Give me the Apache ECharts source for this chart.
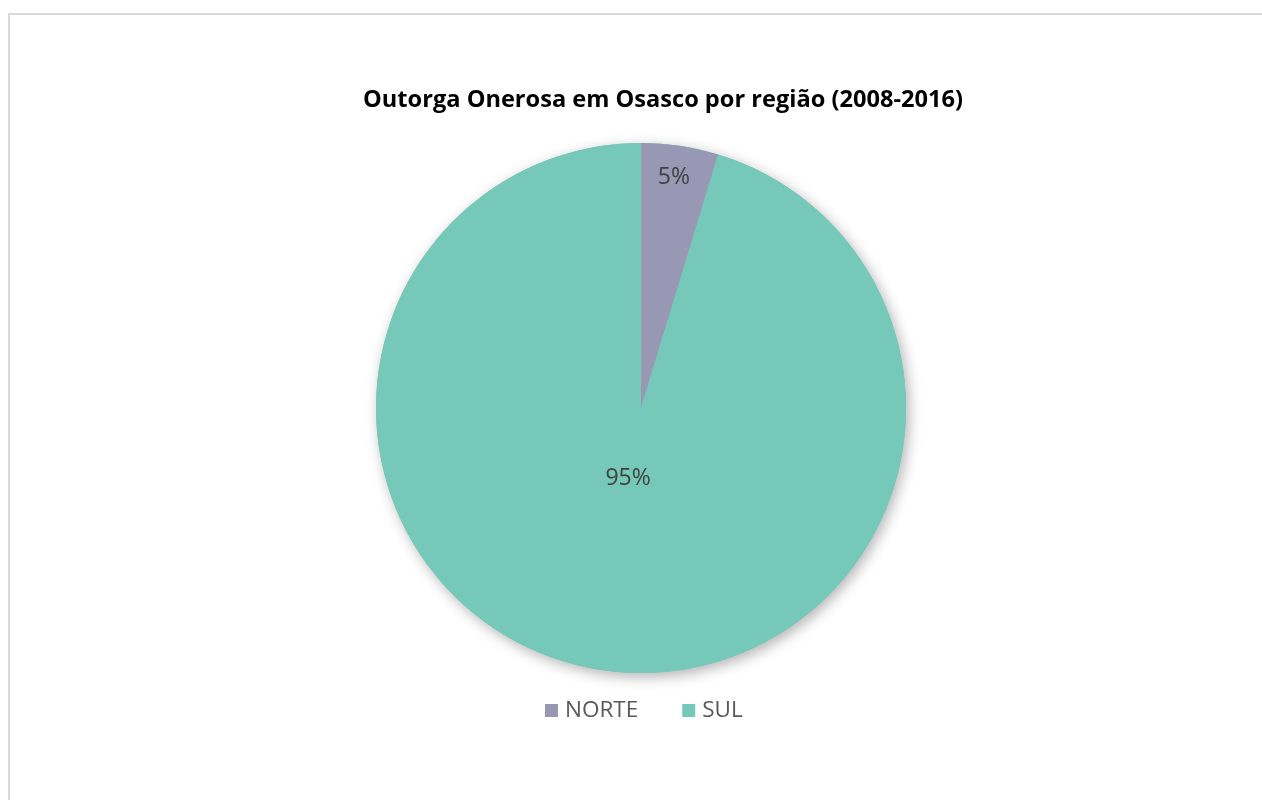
<!DOCTYPE html>
<html>
<head>
<meta charset="utf-8">
<script src="https://cdn.jsdelivr.net/npm/echarts@6/dist/echarts.min.js"></script>
<style>
  html, body { margin: 0; padding: 0; background: #ffffff; }
  #chart { width: 1262px; height: 800px; }
</style>
</head>
<body>
<div id="chart"></div>
<script>
// Regions and their share of the Outorga Onerosa collected (2008-2016)
const regions = ['NORTE', 'SUL'];
const shares = [4.7, 95.3];
const colors = ['#9897b4', '#76c8b9'];
const titleText = 'Outorga Onerosa em Osasco por região (2008-2016)';

// Per-slice label nudges from the default inside position
const labelOffsets = [[13, -97], [7, -64]];

const chart = echarts.init(document.getElementById('chart'), null, { renderer: 'canvas' });

const data = regions.map((name, i) => ({
  name: name,
  value: shares[i],
  itemStyle: { color: colors[i] },
  label: { offset: labelOffsets[i] }
}));

const total = shares.reduce((a, b) => a + b, 0);
const pieCenter = [641, 408];
const pieRadius = [0, 265];

chart.setOption({
  backgroundColor: '#ffffff',
  animation: false,
  title: {
    text: titleText,
    left: 658,
    top: 83,
    textAlign: 'center',
    textStyle: {
      fontFamily: 'Open Sans',
      fontWeight: 'bold',
      fontSize: 23.6,
      color: '#000000'
    }
  },
  legend: {
    data: regions,
    left: 540,
    top: 694,
    itemWidth: 13,
    itemHeight: 13,
    itemGap: 44,
    icon: 'rect',
    textStyle: {
      fontFamily: 'Open Sans',
      fontSize: 22.5,
      color: '#595959',
      padding: [0, 0, 0, 2]
    }
  },
  graphic: [{
    type: 'rect',
    silent: true,
    z: -10,
    shape: { x: 9, y: 14, width: 1400, height: 1000 },
    style: { fill: 'none', stroke: '#d9d9d9', lineWidth: 2 }
  }],
  series: [
    {
      // soft drop shadow under the whole disc
      name: 'shadow',
      type: 'pie',
      center: pieCenter,
      radius: pieRadius,
      silent: true,
      z: 1,
      data: [{ name: 'total', value: total }],
      label: { show: false },
      labelLine: { show: false },
      itemStyle: {
        color: colors[1],
        borderWidth: 0,
        shadowBlur: 14,
        shadowOffsetX: 3,
        shadowOffsetY: 4,
        shadowColor: 'rgba(0,0,0,0.3)'
      },
      emphasis: { disabled: true },
      tooltip: { show: false }
    },
    {
      name: 'Outorga Onerosa',
      type: 'pie',
      center: pieCenter,
      radius: pieRadius,
      startAngle: 90,
      clockwise: true,
      z: 2,
      data: data,
      label: {
        show: true,
        position: 'inside',
        formatter: p => Math.round(p.value) + '%',
        fontFamily: 'Open Sans',
        fontSize: 23,
        color: '#404040'
      },
      labelLine: { show: false },
      itemStyle: { borderWidth: 0 },
      emphasis: { disabled: true }
    }
  ]
});
</script>
</body>
</html>
